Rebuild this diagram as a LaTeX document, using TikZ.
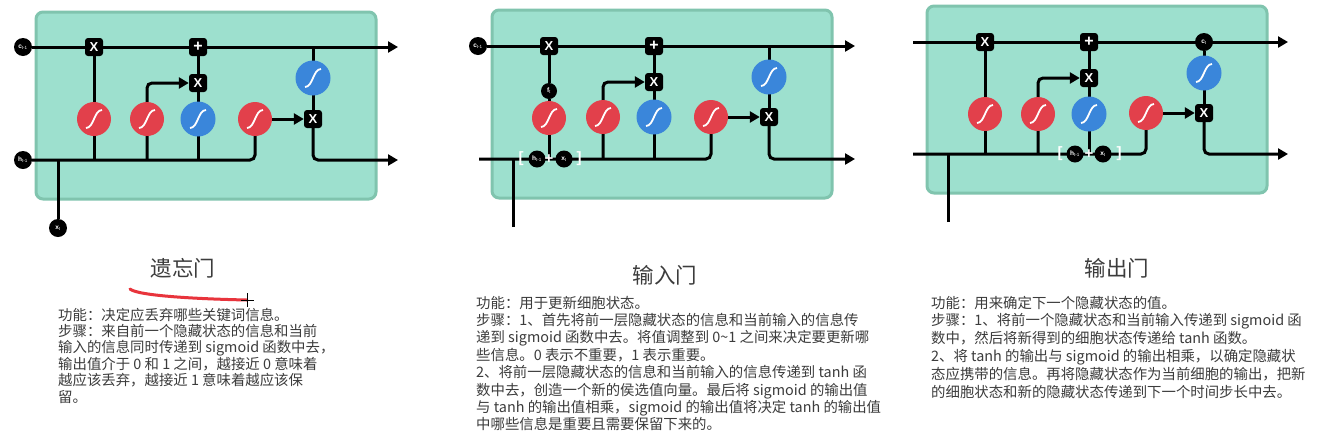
\documentclass[tikz,border=0pt]{standalone}
\usepackage{fontspec}
\setmainfont{Noto Sans CJK SC}
\newfontfamily\lat{Liberation Sans}
\usetikzlibrary{arrows.meta}
\pgfdeclarelayer{bg}
\pgfdeclarelayer{wires}
\pgfsetlayers{bg,wires,main}
\definecolor{cellfill}{RGB}{157,224,206}
\definecolor{celldraw}{RGB}{128,196,174}
\definecolor{sigred}{RGB}{226,64,75}
\definecolor{sigblue}{RGB}{58,134,218}
\definecolor{txtgray}{RGB}{60,60,60}
\definecolor{penred}{RGB}{232,52,60}
\newcommand\lbl[2]{\textbf{#1}\textsubscript{#2}}
\tikzset{
  cellbox/.style={fill=cellfill, draw=celldraw, line width=3pt, rounded corners=7pt},
  wire/.style={line width=3pt, black, rounded corners=5pt},
  arr/.style={-{Triangle[length=10pt,width=11pt]}},
  opbox/.style={rectangle, fill=black, rounded corners=3pt, minimum size=18pt, inner sep=0pt, text=white, font=\lat\bfseries\fontsize{13}{13}\selectfont},
  scurve/.style={path picture={\draw[white,line width=1.8pt] ([shift={(-8pt,-9pt)}]path picture bounding box.center) .. controls +(8pt,0pt) and +(-8pt,0pt) .. ([shift={(8pt,9pt)}]path picture bounding box.center);}},
  sigr/.style={circle, fill=sigred, minimum size=34pt, inner sep=0pt, scurve},
  sigb/.style={circle, fill=sigblue, minimum size=35pt, inner sep=0pt, scurve},
  dotn/.style={circle, fill=black, minimum size=18pt, inner sep=0pt, text=white, font=\lat\fontsize{6.5}{6.5}\selectfont},
  brk/.style={inner sep=0pt, text=white, font=\lat\bfseries\fontsize{15}{15}\selectfont},
  title/.style={inner sep=0pt, text=txtgray, font=\fontsize{21.5}{22}\selectfont},
  body/.style={inner sep=0pt, anchor=base west, text=txtgray, font=\fontsize{14.4}{16}\selectfont},
}
\begin{document}
\begin{tikzpicture}[x=1pt,y=-1pt]
\useasboundingbox (0,0) rectangle (1323,432);
\begin{pgfonlayer}{bg}
\fill[white] (0,0) rectangle (1323,432);
\draw[cellbox] (36,12) rectangle (376,199);
\draw[cellbox] (492,10) rectangle (832,198);
\draw[cellbox] (927,6) rectangle (1267,193);
\end{pgfonlayer}

% ---------- panel 1: forget gate ----------
\node[dotn] (c1) at (23,47) {\lbl{c}{t-1}};
\node[dotn] (h1) at (23,160) {\lbl{h}{t-1}};
\node[dotn] (x1) at (58,228) {\lbl{x}{t}};
\node[opbox] (ma1) at (94,47) {X};
\node[opbox,font=\lat\bfseries\fontsize{16}{16}\selectfont] (pl1) at (198,47) {+};
\node[opbox] (mb1) at (198,83) {X};
\node[sigr] (sa1) at (94,119) {};
\node[sigr] (sb1) at (147,119) {};
\node[sigb] (th1) at (198,119) {};
\node[sigr] (sc1) at (255,119) {};
\node[opbox] (mc1) at (313,119) {X};
\node[sigb] (tc1) at (313,78) {};
\coordinate (oc1) at (398,47);
\coordinate (oh1) at (398,160);
\begin{pgfonlayer}{wires}
\draw[wire,arr] (c1) -- (oc1);
\draw[wire] (h1) -| (sc1);
\draw[wire] (x1) -- (x1 |- h1);
\draw[wire] (ma1) -- (sa1 |- h1);
\draw[wire,arr] (sb1 |- h1) |- (mb1);
\draw[wire] (th1 |- h1) -- (pl1);
\draw[wire,arr] (sc1) -- (mc1);
\draw[wire] (tc1 |- c1) -- (mc1);
\draw[wire,arr] (mc1) |- (oh1);
\end{pgfonlayer}

% ---------- panel 2: input gate ----------
\node[dotn] (c2) at (478,46) {\lbl{c}{t-1}};
\coordinate (h2) at (479,159);
\coordinate (x2) at (513,227);
\node[opbox] (ma2) at (549,46) {X};
\node[opbox,font=\lat\bfseries\fontsize{16}{16}\selectfont] (pl2) at (654,46) {+};
\node[opbox] (mb2) at (654,82) {X};
\node[dotn,minimum size=16pt] (f2) at (549,91) {\lbl{f}{t}};
\node[sigr] (sa2) at (549,118) {};
\node[sigr] (sb2) at (603,117) {};
\node[sigb] (th2) at (654,117) {};
\node[sigr] (sc2) at (711,117) {};
\node[opbox] (mc2) at (769,117) {X};
\node[sigb] (tc2) at (769,77) {};
\coordinate (oc2) at (855,46);
\coordinate (oh2) at (855,159);
\node[brk] (lb2) at (521,159) {[};
\node[dotn,minimum size=17pt] (hh2) at (537,159) {\lbl{h}{t-1}};
\node[brk] (pp2) at (549,159) {+};
\node[dotn,minimum size=17pt] (xx2) at (564,159) {\lbl{x}{t}};
\node[brk] (rb2) at (579,159) {]};
\begin{pgfonlayer}{wires}
\draw[wire,arr] (c2) -- (oc2);
\draw[wire] (h2) -| (sc2);
\draw[wire] (x2) -- (x2 |- h2);
\draw[wire] (ma2) -- (f2);
\draw[wire] (f2) -- (sa2 |- h2);
\draw[wire,arr] (sb2 |- h2) |- (mb2);
\draw[wire] (th2 |- h2) -- (pl2);
\draw[wire,arr] (sc2) -- (mc2);
\draw[wire] (tc2 |- c2) -- (mc2);
\draw[wire,arr] (mc2) |- (oh2);
\end{pgfonlayer}

% ---------- panel 3: output gate ----------
\coordinate (c3) at (913,42);
\coordinate (h3) at (913,154);
\coordinate (x3) at (948,222);
\node[opbox] (ma3) at (985,42) {X};
\node[opbox,font=\lat\bfseries\fontsize{16}{16}\selectfont] (pl3) at (1089,42) {+};
\node[opbox] (mb3) at (1089,78) {X};
\node[dotn] (ct3) at (1204,42) {\lbl{c}{t}};
\node[sigr] (sa3) at (985,114) {};
\node[sigr] (sb3) at (1038,114) {};
\node[sigb] (th3) at (1089,114) {};
\node[sigr] (sc3) at (1146,113) {};
\node[opbox] (mc3) at (1204,113) {X};
\node[sigb] (tc3) at (1204,73) {};
\coordinate (oc3) at (1288,42);
\coordinate (oh3) at (1288,154);
\node[brk] (lb3) at (1060,154) {[};
\node[dotn,minimum size=17pt] (hh3) at (1075,154) {\lbl{h}{t-1}};
\node[brk] (pp3) at (1089,154) {+};
\node[dotn,minimum size=17pt] (xx3) at (1103,154) {\lbl{x}{t}};
\node[brk] (rb3) at (1119,154) {]};
\begin{pgfonlayer}{wires}
\draw[wire,arr] (c3) -- (oc3);
\draw[wire] (h3) -| (sc3);
\draw[wire] (x3) -- (x3 |- h3);
\draw[wire] (ma3) -- (sa3 |- h3);
\draw[wire,arr] (sb3 |- h3) |- (mb3);
\draw[wire] (th3 |- h3) -- (pl3);
\draw[wire,arr] (sc3) -- (mc3);
\draw[wire] (ct3) -- (mc3);
\draw[wire,arr] (mc3) |- (oh3);
\end{pgfonlayer}

% ---------- titles ----------
\node[title] (t1) at (183,268) {遗忘门};
\node[title] (t2) at (665,275) {输入门};
\node[title] (t3) at (1117,268) {输出门};

% hand-drawn underline and cursor
\draw[penred, line width=3pt, line cap=round] (130,289) .. controls (138,296) and (200,299) .. (247,300);
\draw[black, line width=0.9pt] (241,300) -- (254,300) (247,293) -- (247,307);

% ---------- body texts ----------
\foreach [count=\i] \l in {
  {功能：决定应丢弃哪些关键词信息。},
  {步骤：来自前一个隐藏状态的信息和当前},
  {输入的信息同时传递到 sigmoid 函数中去，},
  {输出值介于 0 和 1 之间，越接近 0 意味着},
  {越应该丢弃，越接近 1 意味着越应该保},
  {留。}}
  \node[body] (pa\i) at (58,{320+16.4*(\i-1)}) {\l};

\foreach [count=\i] \l in {
  {功能：用于更新细胞状态。},
  {步骤：1、首先将前一层隐藏状态的信息和当前输入的信息传},
  {递到 sigmoid 函数中去。将值调整到 0\textasciitilde 1 之间来决定要更新哪},
  {些信息。0 表示不重要，1 表示重要。},
  {2、将前一层隐藏状态的信息和当前输入的信息传递到 tanh 函},
  {数中去，创造一个新的侯选值向量。最后将 sigmoid 的输出值},
  {与 tanh 的输出值相乘，sigmoid 的输出值将决定 tanh 的输出值},
  {中哪些信息是重要且需要保留下来的。}}
  \node[body] (pb\i) at (476,{308+17.4*(\i-1)}) {\l};

\foreach [count=\i] \l in {
  {功能：用来确定下一个隐藏状态的值。},
  {步骤：1、将前一个隐藏状态和当前输入传递到 sigmoid 函},
  {数中，然后将新得到的细胞状态传递给 tanh 函数。},
  {2、将 tanh 的输出与 sigmoid 的输出相乘，以确定隐藏状},
  {态应携带的信息。再将隐藏状态作为当前细胞的输出，把新},
  {的细胞状态和新的隐藏状态传递到下一个时间步长中去。}}
  \node[body] (pc\i) at (931,{308+17.8*(\i-1)}) {\l};
\end{tikzpicture}
\end{document}
